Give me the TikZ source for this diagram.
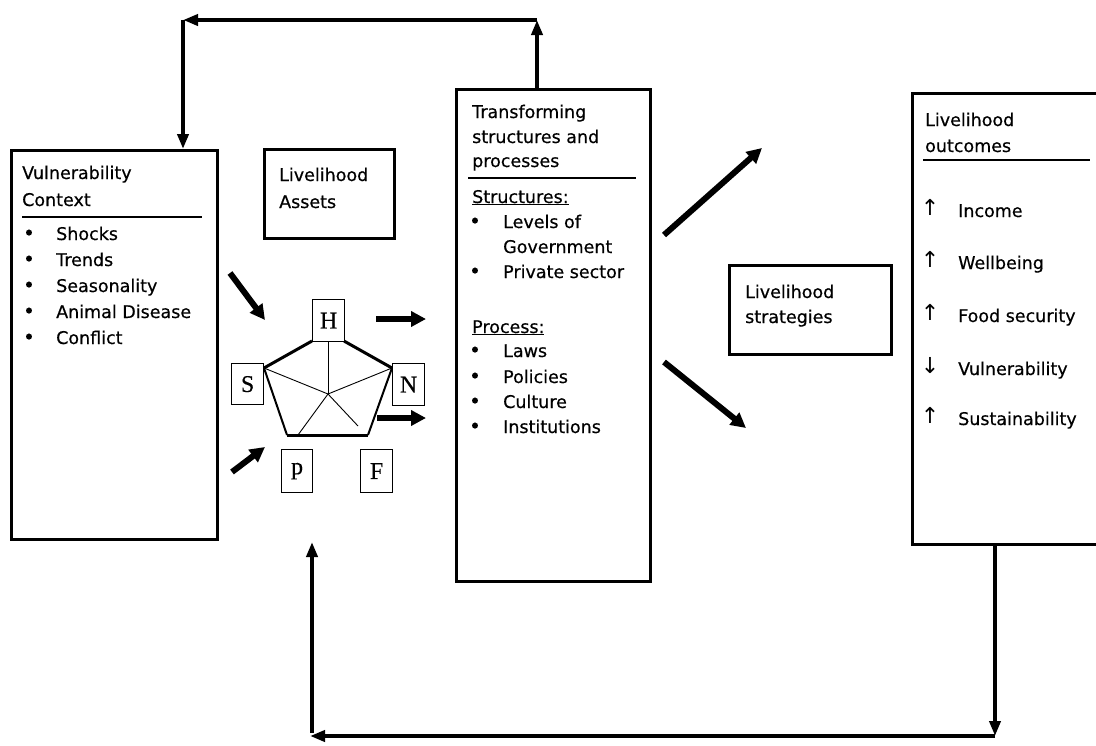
\documentclass[tikz,border=0pt]{standalone}
\usepackage{fontspec}
\setmainfont{DejaVu Sans}
\newfontfamily\mainfake[FakeBold=0.5]{DejaVu Sans}
\newfontfamily\serifletters[FakeBold=0.4]{Liberation Serif}
\usetikzlibrary{arrows.meta}
\begin{document}
\begin{tikzpicture}[x=1pt,y=-1pt,
  box/.style={draw,line width=3pt,anchor=north west,inner sep=0pt},
  frame/.style={draw=none,anchor=north west,inner sep=0pt},
  boxline/.style={line width=3pt},
  txt/.style={anchor=base west,inner sep=0pt,font=\mainfake\fontsize{17.5}{20}\selectfont},
  bul/.style={anchor=base,inner sep=0pt,font=\mainfake\fontsize{20}{20}\selectfont},
  arr/.style={anchor=base,inner sep=0pt,font=\fontsize{22}{22}\selectfont},
  hline/.style={line width=2.5pt},
  loopline/.style={line width=4pt,-{Triangle[length=15pt,width=11pt]}},
  fat/.style={line width=6pt,-{Triangle[length=15pt,width=15pt]}},
  letterbox/.style={draw,line width=1.2pt,minimum width=32pt,minimum height=42pt,inner sep=0pt,anchor=north west,font=\serifletters\fontsize{24}{26}\selectfont},
  pbold/.style={line width=3pt,line join=round},
  pside/.style={line width=2pt},
  spoke/.style={line width=0.9pt}
]
\useasboundingbox (0,0) rectangle (1096,745);

% ---------- Vulnerability context ----------
\node[box,minimum width=206pt,minimum height=389pt] (vul) at (10,149) {};
\node[txt] (v1) at (22,179) {Vulnerability};
\node[txt] (v2) at (22,206) {Context};
\draw[hline] (22,217) coordinate (vl1) -- (202,217) coordinate (vl2);
\foreach \y/\t [count=\i] in {240/Shocks,266/Trends,292/Seasonality,318/Animal Disease,344/Conflict}{
  \node[bul] (vb\i) at (29,\y) {•};
  \node[txt] (vt\i) at (56,\y) {\t};
}

% ---------- Livelihood assets ----------
\node[box,minimum width=130pt,minimum height=89pt] (assets) at (263,148) {};
\node[txt] (a1) at (279,181) {Livelihood};
\node[txt] (a2) at (279,208) {Assets};

% pentagon letter boxes
\node[letterbox] (H) at (312,299) {H};
\node[letterbox,minimum height=41pt] (S) at (231,363) {S};
\node[letterbox] (N) at (392,363) {N};
\node[letterbox,minimum width=31pt,minimum height=43pt] (P) at (281,449) {p};
\node[letterbox,minimum width=32pt,minimum height=43pt] (F) at (360,449) {F};

% pentagon
\coordinate (pc) at (328,394);
\coordinate (ptl) at (312,341);
\coordinate (ptr) at (344,341);
\coordinate (pr) at (392,368);
\coordinate (pbr) at (368,435);
\coordinate (pbl) at (287,435);
\coordinate (pl) at (264,368);
\draw[pbold] (pl) -- (ptl);
\draw[pbold] (ptr) -- (pr);
\draw[pbold] (pbl) -- (pbr);
\draw[pside] (pr) -- (pbr);
\draw[pside] (pl) -- (pbl);
\draw[spoke] (pc) -- (328,341);
\draw[spoke] (pc) -- (pl);
\draw[spoke] (pc) -- (pr);
\draw[spoke] (pc) -- (298,435);
\draw[spoke] (pc) -- (358,426);

% arrows around the pentagon
\coordinate (ia1) at (230,273); \coordinate (ib1) at (265,320);
\coordinate (ia2) at (232,472); \coordinate (ib2) at (265,447);
\coordinate (oa1) at (376,319); \coordinate (ob1) at (426,319);
\coordinate (oa2) at (377,418); \coordinate (ob2) at (426,418);
\draw[fat] (ia1) -- (ib1);
\draw[fat] (ia2) -- (ib2);
\draw[fat] (oa1) -- (ob1);
\draw[fat] (oa2) -- (ob2);

% ---------- Transforming structures ----------
\node[box,minimum width=194pt,minimum height=492pt] (trans) at (455,88) {};
\node[txt] (t1) at (472,118) {Transforming};
\node[txt] (t2) at (472,143) {structures and};
\node[txt] (t3) at (472,167) {processes};
\draw[hline] (468,178) coordinate (tl1) -- (636,178) coordinate (tl2);
\node[txt] (ts) at (472,203) {\underline{Structures:}};
\node[bul] (tb1) at (475,228) {•};
\node[txt] (tt1) at (503,228) {Levels of};
\node[txt] (tt1b) at (503,253) {Government};
\node[bul] (tb2) at (475,278) {•};
\node[txt] (tt2) at (503,278) {Private sector};
\node[txt] (tp) at (472,333) {\underline{Process:}};
\foreach \y/\t [count=\i] in {357/Laws,383/Policies,408/Culture,433/Institutions}{
  \node[bul] (pb\i) at (475,\y) {•};
  \node[txt] (pt\i) at (503,\y) {\t};
}

% arrows towards strategies
\coordinate (sa1) at (664,235); \coordinate (sb1) at (762,148);
\coordinate (sa2) at (664,362); \coordinate (sb2) at (746,428);
\draw[fat] (sa1) -- (sb1);
\draw[fat] (sa2) -- (sb2);

% ---------- Livelihood strategies ----------
\node[box,minimum width=162pt,minimum height=89pt] (strat) at (728,264) {};
\node[txt] (s1) at (745,298) {Livelihood};
\node[txt] (s2) at (745,323) {strategies};

% ---------- Livelihood outcomes ----------
\node[frame,minimum width=184pt,minimum height=451pt] (outc) at (912,93) {};
\draw[boxline] (outc.north east) -- (outc.north west) -- (outc.south west) -- (outc.south east);
\node[txt] (o1) at (925,126) {Livelihood};
\node[txt] (o2) at (925,152) {outcomes};
\draw[hline] (923,160) coordinate (ol1) -- (1090,160) coordinate (ol2);
\foreach \y/\s/\t [count=\i] in {217/↑/Income,269/↑/Wellbeing,322/↑/Food security,375/↓/Vulnerability,425/↑/Sustainability}{
  \node[arr] (oa\i) at (930,\y-2) {\s};
  \node[txt] (ot\i) at (958,\y) {\t};
}

% ---------- feedback loops ----------
\coordinate (tup) at (537,20);
\coordinate (tlc) at (183,20);
\draw[loopline] (trans.north -| tup) -- (tup);
\draw[loopline] (tup) -- (tlc);
\draw[loopline] (tlc) -- (tlc |- vul.north);

\coordinate (bd) at (995,736);
\coordinate (bl) at (310,736);
\coordinate (bu) at (312,733);
\coordinate (btop) at (312,542);
\draw[loopline] (outc.south -| bd) -- (bd);
\draw[loopline] (bd) -- (bl);
\draw[loopline] (bu) -- (btop);
\end{tikzpicture}
\end{document}
